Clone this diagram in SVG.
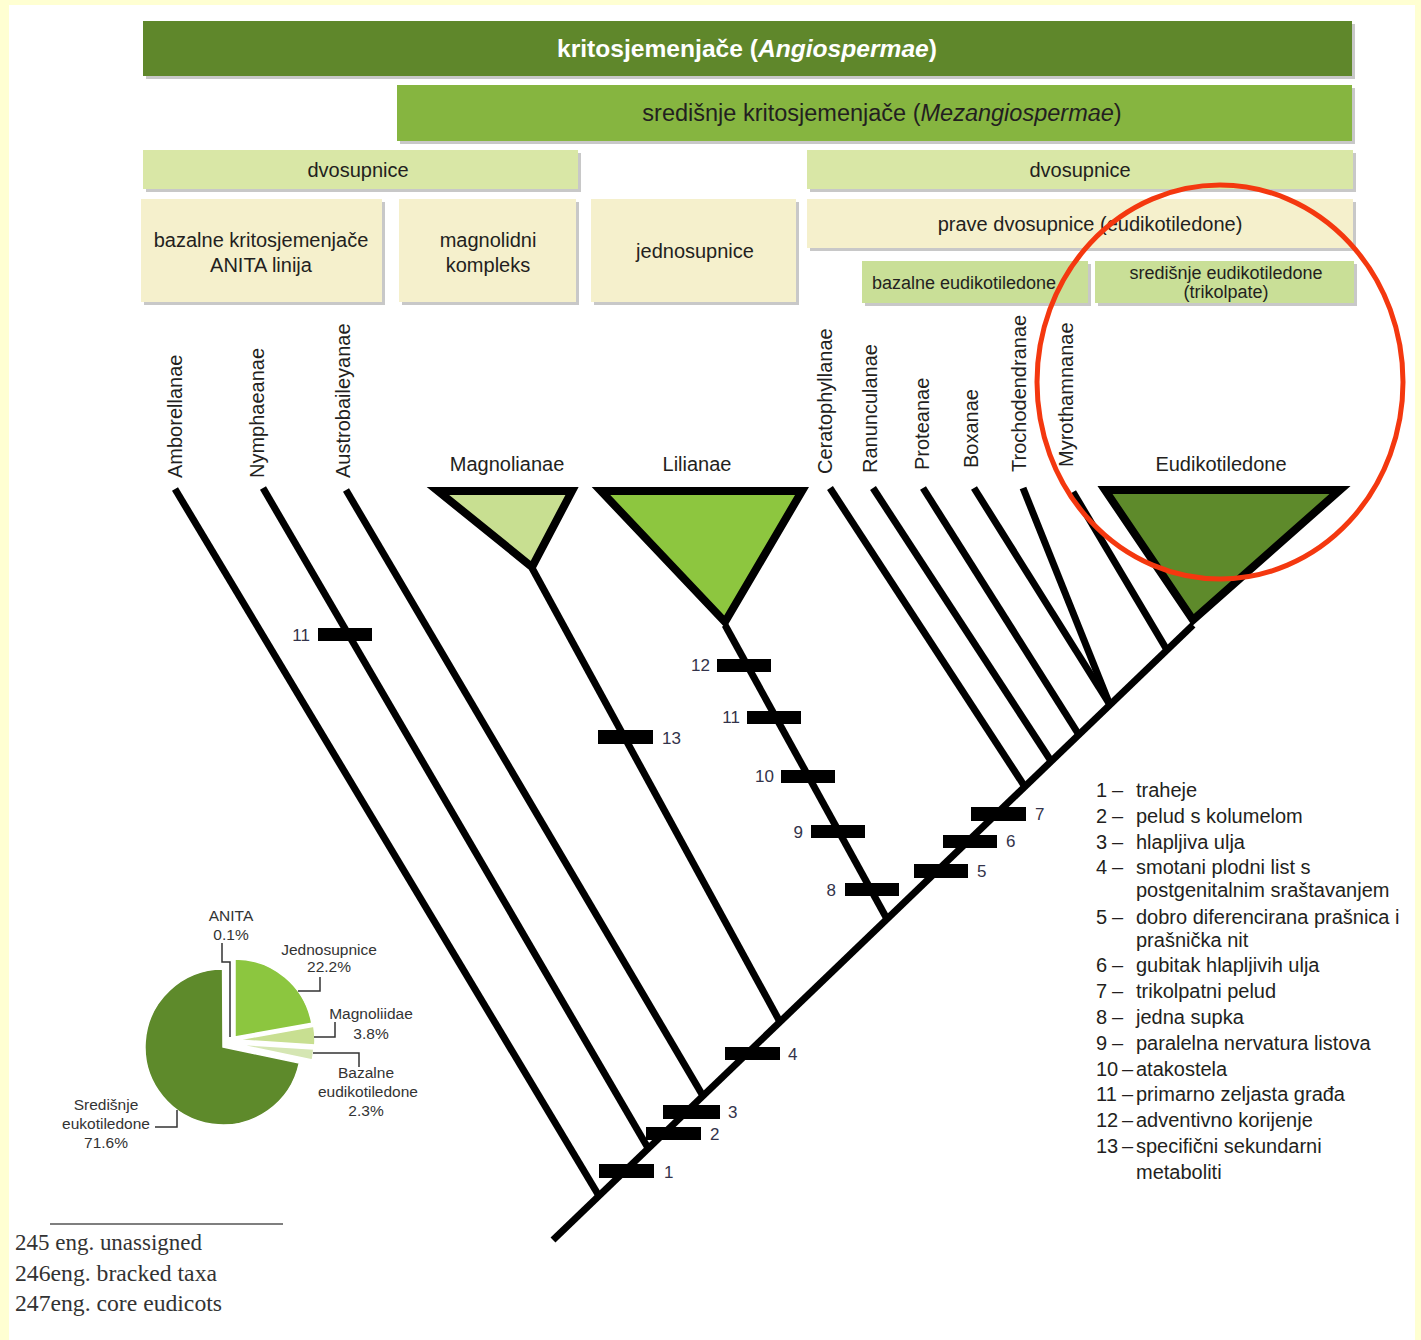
<svg xmlns="http://www.w3.org/2000/svg" width="1421" height="1340" viewBox="0 0 1421 1340">
<style>
.t{font-family:"Liberation Sans",Arial,sans-serif;fill:#231f20}
.hd{font-size:20px;text-anchor:middle}
.tx{font-size:20px}
.sm{font-size:18px;text-anchor:middle}
.num{font-family:"Liberation Sans",Arial,sans-serif;font-size:17px;fill:#33334a}
.pie{font-family:"Liberation Sans",Arial,sans-serif;font-size:15.5px;fill:#333;text-anchor:middle}
.fn{font-family:"Liberation Serif","Times New Roman",serif;font-size:24px;fill:#333}
.sh{fill:#c8c8c8}
.br{stroke:#000;stroke-width:7;fill:none}
.tri{stroke:#000;stroke-width:8;stroke-linejoin:miter}
.bar{fill:#000}
.ld{fill:none;stroke:#333;stroke-width:1.5}
.sl{stroke:#fff;stroke-width:1.5}
</style>
<rect x="0" y="0" width="1421" height="1340" fill="#ffffd2"/>
<rect x="9" y="5" width="1406" height="1335" fill="#fff"/>

<g id="angiospermae">
<rect class="sh" x="146" y="24" width="1209" height="55"/>
<rect x="143" y="21" width="1209" height="55" fill="#5f872b"/>
<text class="t" x="747" y="57" font-size="24" font-weight="bold" text-anchor="middle" style="fill:#fff" textLength="380" lengthAdjust="spacingAndGlyphs">kritosjemenjače (<tspan font-style="italic">Angiospermae</tspan>)</text>
</g>
<g id="mezangiospermae">
<rect class="sh" x="400" y="88" width="955" height="56"/>
<rect x="397" y="85" width="955" height="56" fill="#86b540"/>
<text class="t" x="882" y="121" font-size="23.5" text-anchor="middle">središnje kritosjemenjače (<tspan font-style="italic">Mezangiospermae</tspan>)</text>
</g>
<g id="dvosupnice-1">
<rect class="sh" x="146" y="153" width="435" height="39"/>
<rect x="143" y="150" width="435" height="39" fill="#d9e7a6"/>
<text class="t hd" x="358" y="177">dvosupnice</text>
</g>
<g id="dvosupnice-2">
<rect class="sh" x="810" y="153" width="546" height="39"/>
<rect x="807" y="150" width="546" height="39" fill="#d9e7a6"/>
<text class="t hd" x="1080" y="177">dvosupnice</text>
</g>
<g id="anita">
<rect class="sh" x="144" y="202" width="241" height="103"/>
<rect x="141" y="199" width="241" height="103" fill="#f5f0cc"/>
<text class="t hd" x="261" y="247">bazalne kritosjemenjače</text>
<text class="t hd" x="261" y="272">ANITA linija</text>
</g>
<g id="magnolidni">
<rect class="sh" x="402" y="202" width="177" height="103"/>
<rect x="399" y="199" width="177" height="103" fill="#f5f0cc"/>
<text class="t hd" x="488" y="247">magnolidni</text>
<text class="t hd" x="488" y="272">kompleks</text>
</g>
<g id="jednosupnice">
<rect class="sh" x="594" y="202" width="205" height="103"/>
<rect x="591" y="199" width="205" height="103" fill="#f5f0cc"/>
<text class="t hd" x="695" y="258">jednosupnice</text>
</g>
<g id="prave-dvosupnice">
<rect class="sh" x="810" y="202" width="546" height="49"/>
<rect x="807" y="199" width="546" height="49" fill="#f5f0cc"/>
<text class="t hd" x="1090" y="231">prave dvosupnice (eudikotiledone)</text>
</g>
<g id="bazalne-eudikotiledone">
<rect class="sh" x="865" y="264" width="226" height="42"/>
<rect x="862" y="261" width="226" height="42" fill="#c9df97"/>
<text class="t sm" x="964" y="289">bazalne eudikotiledone</text>
</g>
<g id="sredisnje-eudikotiledone">
<rect class="sh" x="1098" y="264" width="259" height="42"/>
<rect x="1095" y="261" width="259" height="42" fill="#c9df97"/>
<text class="t sm" x="1226" y="279">središnje eudikotiledone</text>
<text class="t sm" x="1226" y="298">(trikolpate)</text>
</g>

<g id="connectors">
<line class="br" x1="553" y1="1240" x2="1193" y2="625"/>
<line class="br" x1="175" y1="489" x2="599" y2="1196"/>
<line class="br" x1="263" y1="488" x2="648" y2="1148"/>
<line class="br" x1="346" y1="490" x2="703" y2="1096"/>
<line class="br" x1="532" y1="568" x2="780" y2="1022"/>
<line class="br" x1="725" y1="625" x2="887" y2="919"/>
<line class="br" x1="830" y1="488" x2="1025" y2="787"/>
<line class="br" x1="873" y1="488" x2="1051" y2="761"/>
<line class="br" x1="923" y1="488" x2="1079" y2="735"/>
<line class="br" x1="974" y1="488" x2="1110" y2="705"/>
<line class="br" x1="1023" y1="488" x2="1110" y2="705"/>
<line class="br" x1="1073" y1="492" x2="1167" y2="650"/>
</g>

<g id="amborellanae"><text class="t tx" transform="translate(182,478) rotate(-90)">Amborellanae</text></g>
<g id="nymphaeanae"><text class="t tx" transform="translate(264,478) rotate(-90)">Nymphaeanae</text></g>
<g id="austrobaileyanae"><text class="t tx" transform="translate(350,478) rotate(-90)">Austrobaileyanae</text></g>
<g id="magnolianae">
<text class="t hd" x="507" y="471">Magnolianae</text>
<path class="tri" d="M438,491 L572,491 L532,567 Z" fill="#c8df91"/>
</g>
<g id="lilianae">
<text class="t hd" x="697" y="471">Lilianae</text>
<path class="tri" d="M601,491 L802,491 L725,622 Z" fill="#8dc63f"/>
</g>
<g id="ceratophyllanae"><text class="t tx" transform="translate(832,474) rotate(-90)">Ceratophyllanae</text></g>
<g id="ranunculanae"><text class="t tx" transform="translate(877,473) rotate(-90)">Ranunculanae</text></g>
<g id="proteanae"><text class="t tx" transform="translate(929,470) rotate(-90)">Proteanae</text></g>
<g id="boxanae"><text class="t tx" transform="translate(978,468) rotate(-90)">Boxanae</text></g>
<g id="trochodendranae"><text class="t tx" transform="translate(1026,472) rotate(-90)">Trochodendranae</text></g>
<g id="myrothamnanae"><text class="t tx" transform="translate(1073,467) rotate(-90)">Myrothamnanae</text></g>
<g id="eudikotiledone">
<text class="t hd" x="1221" y="471">Eudikotiledone</text>
<path class="tri" d="M1105,490 L1340,490 L1193,620 Z" fill="#5e8a2b"/>
</g>

<g id="characters">
<rect class="bar" x="318" y="628" width="54" height="13"/><text class="num" x="310" y="641" text-anchor="end">11</text>
<rect class="bar" x="598" y="730" width="55" height="14"/><text class="num" x="662" y="744">13</text>
<rect class="bar" x="717" y="659" width="54" height="13"/><text class="num" x="710" y="671" text-anchor="end">12</text>
<rect class="bar" x="747" y="711" width="54" height="13"/><text class="num" x="740" y="723" text-anchor="end">11</text>
<rect class="bar" x="781" y="770" width="54" height="13"/><text class="num" x="774" y="782" text-anchor="end">10</text>
<rect class="bar" x="811" y="825" width="54" height="13"/><text class="num" x="803" y="838" text-anchor="end">9</text>
<rect class="bar" x="845" y="883" width="54" height="13"/><text class="num" x="836" y="896" text-anchor="end">8</text>
<rect class="bar" x="971" y="807" width="55" height="14"/><text class="num" x="1035" y="820">7</text>
<rect class="bar" x="943" y="835" width="54" height="13"/><text class="num" x="1006" y="847">6</text>
<rect class="bar" x="914" y="864" width="54" height="14"/><text class="num" x="977" y="877">5</text>
<rect class="bar" x="725" y="1047" width="55" height="13"/><text class="num" x="788" y="1060">4</text>
<rect class="bar" x="663" y="1105" width="57" height="14"/><text class="num" x="728" y="1118">3</text>
<rect class="bar" x="646" y="1127" width="55" height="13"/><text class="num" x="710" y="1140">2</text>
<rect class="bar" x="599" y="1164" width="55" height="14"/><text class="num" x="664" y="1178">1</text>
</g>

<g id="legend" class="t tx">
<text x="1096" y="797">1</text><text x="1112" y="797">–</text><text x="1136" y="797">traheje</text>
<text x="1096" y="823">2</text><text x="1112" y="823">–</text><text x="1136" y="823">pelud s kolumelom</text>
<text x="1096" y="849">3</text><text x="1112" y="849">–</text><text x="1136" y="849">hlapljiva ulja</text>
<text x="1096" y="874">4</text><text x="1112" y="874">–</text><text x="1136" y="874">smotani plodni list s</text>
<text x="1136" y="897">postgenitalnim sraštavanjem</text>
<text x="1096" y="924">5</text><text x="1112" y="924">–</text><text x="1136" y="924">dobro diferencirana prašnica i</text>
<text x="1136" y="947">prašnička nit</text>
<text x="1096" y="972">6</text><text x="1112" y="972">–</text><text x="1136" y="972">gubitak hlapljivih ulja</text>
<text x="1096" y="998">7</text><text x="1112" y="998">–</text><text x="1136" y="998">trikolpatni pelud</text>
<text x="1096" y="1024">8</text><text x="1112" y="1024">–</text><text x="1136" y="1024">jedna supka</text>
<text x="1096" y="1050">9</text><text x="1112" y="1050">–</text><text x="1136" y="1050">paralelna nervatura listova</text>
<text x="1096" y="1076">10</text><text x="1122" y="1076">–</text><text x="1136" y="1076">atakostela</text>
<text x="1096" y="1101">11</text><text x="1122" y="1101">–</text><text x="1136" y="1101">primarno zeljasta građa</text>
<text x="1096" y="1127">12</text><text x="1122" y="1127">–</text><text x="1136" y="1127">adventivno korijenje</text>
<text x="1096" y="1153">13</text><text x="1122" y="1153">–</text><text x="1136" y="1153">specifični sekundarni</text>
<text x="1136" y="1179">metaboliti</text>
</g>

<g id="pie">
<path class="sl" d="M223,1047 L299.3,1063.1 A78,78 0 1 1 222.6,969 Z" fill="#5e8a2b"/>
<path class="sl" d="M235,1037 L235,959 A78,78 0 0 1 311.8,1023.3 Z" fill="#8cc63f"/>
<path class="sl" d="M237,1040 L313.8,1026.3 A78,78 0 0 1 314.8,1044.9 Z" fill="#c8df91"/>
<path class="sl" d="M236,1044 L313.8,1048.9 A78,78 0 0 1 312.3,1060.1 Z" fill="#d5e6b3"/>
<polyline class="ld" points="222,943 222,962 230,962 230,1037"/>
<polyline class="ld" points="320,977 320,991 298,991"/>
<polyline class="ld" points="335,1022 335,1037 314,1037"/>
<polyline class="ld" points="313,1053 359,1053 359,1067"/>
<polyline class="ld" points="155,1127 177,1127 177,1110"/>
<text class="pie" x="231" y="921">ANITA</text>
<text class="pie" x="231" y="940">0.1%</text>
<text class="pie" x="329" y="955">Jednosupnice</text>
<text class="pie" x="329" y="972">22.2%</text>
<text class="pie" x="371" y="1019">Magnoliidae</text>
<text class="pie" x="371" y="1039">3.8%</text>
<text class="pie" x="366" y="1078">Bazalne</text>
<text class="pie" x="368" y="1097">eudikotiledone</text>
<text class="pie" x="366" y="1116">2.3%</text>
<text class="pie" x="106" y="1110">Središnje</text>
<text class="pie" x="106" y="1129">eukotiledone</text>
<text class="pie" x="106" y="1148">71.6%</text>
</g>

<g id="footnotes">
<line x1="50" y1="1224" x2="283" y2="1224" stroke="#555" stroke-width="1.5"/>
<text class="fn" x="15" y="1250" textLength="187" lengthAdjust="spacingAndGlyphs">245 eng. unassigned</text>
<text class="fn" x="15" y="1281" textLength="202" lengthAdjust="spacingAndGlyphs">246eng. bracked taxa</text>
<text class="fn" x="15" y="1311" textLength="207" lengthAdjust="spacingAndGlyphs">247eng. core eudicots</text>
</g>

<ellipse cx="1220" cy="382" rx="183" ry="197" fill="none" stroke="#f4380f" stroke-width="5"/>
</svg>
